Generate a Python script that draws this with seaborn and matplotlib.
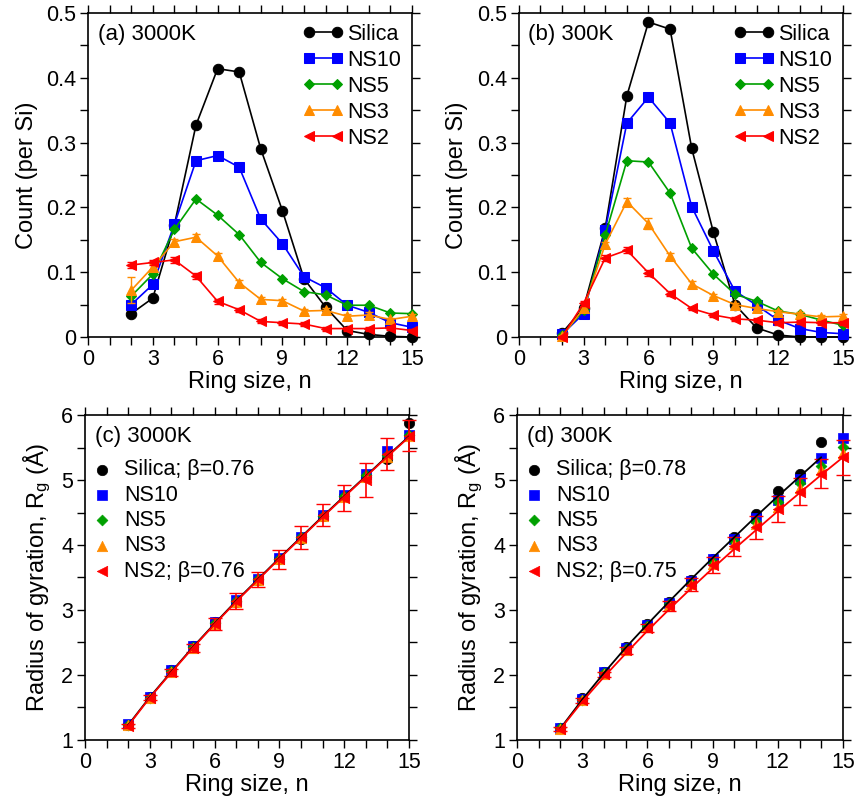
"""Ring statistics: ring size distribution and radius of gyration."""
import matplotlib
matplotlib.use("Agg")
import matplotlib.pyplot as plt
import numpy as np
import pandas as pd
import seaborn as sns

sns.set_theme(style="ticks")
plt.rcParams["font.family"] = ["Liberation Sans", "DejaVu Sans"]
plt.rcParams["mathtext.default"] = "regular"
for key in ["text.color", "axes.labelcolor", "xtick.color", "ytick.color", "axes.edgecolor"]:
    plt.rcParams[key] = "black"

n = np.arange(2, 16)
labels = ["Silica", "NS10", "NS5", "NS3", "NS2"]
colors = ["black", "#0000ff", "#00a000", "#ff8c00", "#ff0000"]
markers = ["o", "s", "D", "^", "<"]
msizes = [7.5, 6.5, 5.5, 7.5, 7.5]

# (a) ring count per Si, 3000K
a_silica = [0.036, 0.060, 0.173, 0.327, 0.414, 0.409, 0.290, 0.195, 0.090, 0.046, 0.010, 0.004, 0.001, 0.000]
a_ns10 = [0.050, 0.081, 0.174, 0.272, 0.280, 0.262, 0.182, 0.144, 0.093, 0.076, 0.049, 0.038, 0.022, 0.015]
a_ns5 = [0.063, 0.097, 0.166, 0.213, 0.188, 0.158, 0.115, 0.090, 0.070, 0.065, 0.049, 0.049, 0.037, 0.036]
a_ns3 = [0.072, 0.108, 0.147, 0.154, 0.125, 0.084, 0.058, 0.056, 0.040, 0.041, 0.032, 0.034, 0.027, 0.032]
a_ns2 = [0.111, 0.115, 0.119, 0.094, 0.055, 0.042, 0.024, 0.022, 0.020, 0.013, 0.013, 0.013, 0.014, 0.010]
a_ns3_err = [0.020, 0.005, 0.004, 0.005, 0.005, 0.004, 0.004, 0.003, 0.003, 0.003, 0.003, 0.005, 0.003, 0.003]
a_ns2_err = [0.004, 0.004, 0.005, 0.005, 0.004, 0.003, 0.003, 0.003, 0.003, 0.003, 0.003, 0.003, 0.003, 0.003]

# (b) ring count per Si, 300K
b_silica = [0.006, 0.045, 0.168, 0.372, 0.486, 0.475, 0.291, 0.162, 0.050, 0.014, 0.003, 0.000, 0.000, 0.000]
b_ns10 = [0.004, 0.036, 0.165, 0.330, 0.370, 0.330, 0.201, 0.133, 0.071, 0.049, 0.026, 0.013, 0.007, 0.005]
b_ns5 = [0.003, 0.041, 0.157, 0.272, 0.270, 0.222, 0.137, 0.097, 0.066, 0.055, 0.040, 0.035, 0.026, 0.018]
b_ns3 = [0.001, 0.044, 0.143, 0.209, 0.175, 0.125, 0.082, 0.064, 0.050, 0.044, 0.039, 0.035, 0.031, 0.032]
b_ns2 = [0.000, 0.052, 0.122, 0.134, 0.099, 0.067, 0.044, 0.034, 0.028, 0.026, 0.022, 0.023, 0.022, 0.022]
b_ns3_err = [0.002, 0.004, 0.004, 0.006, 0.008, 0.005, 0.004, 0.003, 0.003, 0.003, 0.003, 0.003, 0.003, 0.003]
b_ns2_err = [0.002, 0.004, 0.004, 0.005, 0.005, 0.004, 0.003, 0.003, 0.003, 0.003, 0.003, 0.003, 0.003, 0.003]

# (c) radius of gyration, 3000K
c_silica = [1.23, 1.66, 2.07, 2.44, 2.81, 3.13, 3.46, 3.78, 4.10, 4.44, 4.76, 5.05, 5.33, 5.87]
c_ns10 = [1.24, 1.66, 2.07, 2.44, 2.81, 3.15, 3.48, 3.80, 4.13, 4.46, 4.77, 5.09, 5.44, 5.70]
c_ns5 = [1.23, 1.65, 2.06, 2.43, 2.80, 3.14, 3.47, 3.79, 4.12, 4.45, 4.75, 5.07, 5.38, 5.69]
c_ns3 = [1.23, 1.65, 2.05, 2.42, 2.79, 3.13, 3.46, 3.78, 4.11, 4.44, 4.74, 5.05, 5.36, 5.68]
c_ns2 = [1.22, 1.65, 2.04, 2.42, 2.78, 3.14, 3.47, 3.78, 4.12, 4.46, 4.72, 5.00, 5.40, 5.68]
c_ns2_err = [0.03, 0.04, 0.05, 0.06, 0.09, 0.12, 0.12, 0.15, 0.18, 0.17, 0.20, 0.26, 0.25, 0.24]
c_silica_fit = [1.23, 1.66, 2.05, 2.43, 2.79, 3.14, 3.47, 3.80, 4.12, 4.44, 4.75, 5.06, 5.37, 5.67]
c_ns2_fit = [1.22, 1.65, 2.04, 2.42, 2.78, 3.13, 3.46, 3.79, 4.11, 4.43, 4.74, 5.05, 5.36, 5.66]

# (d) radius of gyration, 300K (no silica ring of size 15)
d_silica = [1.18, 1.64, 2.05, 2.43, 2.78, 3.12, 3.46, 3.79, 4.12, 4.48, 4.83, 5.09, 5.59, np.nan]
d_ns10 = [1.18, 1.63, 2.04, 2.42, 2.77, 3.11, 3.45, 3.78, 4.10, 4.41, 4.70, 5.01, 5.34, 5.65]
d_ns5 = [1.18, 1.62, 2.03, 2.40, 2.75, 3.09, 3.42, 3.74, 4.06, 4.36, 4.66, 4.95, 5.22, 5.51]
d_ns3 = [1.17, 1.61, 2.02, 2.39, 2.74, 3.07, 3.40, 3.71, 4.02, 4.32, 4.59, 4.88, 5.15, 5.41]
d_ns2 = [1.17, 1.61, 2.01, 2.38, 2.72, 3.06, 3.39, 3.69, 3.98, 4.27, 4.55, 4.82, 5.10, 5.35]
d_ns2_err = [0.03, 0.04, 0.04, 0.05, 0.06, 0.08, 0.10, 0.12, 0.15, 0.17, 0.20, 0.21, 0.23, 0.27]
d_silica_fit = [1.18, 1.62, 2.03, 2.42, 2.78, 3.13, 3.47, 3.80, 4.12, 4.44, 4.75, 5.05, 5.35, np.nan]
d_ns2_fit = [1.17, 1.59, 1.97, 2.33, 2.68, 3.01, 3.33, 3.64, 3.94, 4.23, 4.52, 4.80, 5.08, 5.35]


def style_axes(ax, ylim, ymajor, yminor, ylabel):
    ax.set_xlim(0, 15)
    ax.set_ylim(*ylim)
    ax.set_xticks(np.arange(0, 16, 3))
    ax.set_xticks(np.arange(0, 16, 1), minor=True)
    ax.set_yticks(ymajor)
    ax.set_yticks(yminor, minor=True)
    ax.tick_params(which="both", direction="out", length=5.5, width=1.0,
                   top=True, right=True, labelsize=15.5, pad=3)
    for sp in ax.spines.values():
        sp.set_linewidth(1.2)
    ax.set_xlabel("Ring size, n", fontsize=17, labelpad=1)
    ax.set_ylabel(ylabel, fontsize=17, labelpad=6)


def count_panel(ax, series, errs, tag):
    for i, (lab, vals) in enumerate(zip(labels, series)):
        df = pd.DataFrame({"n": n, "count": vals})
        sns.lineplot(data=df, x="n", y="count", ax=ax, color=colors[i], marker=markers[i],
                     markersize=msizes[i], markeredgecolor=colors[i], linewidth=1.2,
                     label=lab, zorder=3 + i, clip_on=False)
        if errs[i] is not None:
            ax.errorbar(n, vals, yerr=errs[i], fmt="none", ecolor=colors[i],
                        elinewidth=1.0, capsize=3, zorder=3 + i, clip_on=False)
    style_axes(ax, (0, 0.5), np.arange(0, 0.51, 0.1), np.arange(0, 0.51, 0.05), "Count (per Si)")
    ax.set_yticklabels(["0", "0.1", "0.2", "0.3", "0.4", "0.5"])
    ax.legend(loc="upper right", frameon=False, fontsize=15.5, numpoints=2,
              handlelength=1.9, handletextpad=0.2, labelspacing=0.23,
              borderaxespad=0.3, borderpad=0.2)
    ax.text(0.03, 0.965, tag, transform=ax.transAxes, fontsize=16, va="top", ha="left")


def rg_panel(ax, series, ns2_err, fits, betas, tag):
    for i, (lab, vals) in enumerate(zip(labels, series)):
        df = pd.DataFrame({"n": n, "rg": vals}).dropna()
        if i == 0:
            lab = f"Silica; β={betas[0]}"
        if i == 4:
            lab = f"NS2; β={betas[1]}"
        sns.scatterplot(data=df, x="n", y="rg", ax=ax, color=colors[i], marker=markers[i],
                        s=msizes[i] ** 2, edgecolor=colors[i], linewidth=0.5,
                        label=lab, zorder=3 + i, clip_on=False)
    ax.errorbar(n, series[4], yerr=ns2_err, fmt="none", ecolor=colors[4],
                elinewidth=1.2, capsize=5, zorder=8, clip_on=False)
    for fit, col in zip(fits, [colors[0], colors[4]]):
        df = pd.DataFrame({"n": n, "fit": fit}).dropna()
        sns.lineplot(data=df, x="n", y="fit", ax=ax, color=col, linewidth=1.3, zorder=9)
    style_axes(ax, (1, 6), np.arange(1, 6.1, 1), np.arange(1, 6.1, 0.5),
               "Radius of gyration, R$_{g}$ (Å)")
    ax.legend(loc="upper left", bbox_to_anchor=(0.0, 0.89), frameon=False, fontsize=15.5,
              handlelength=0.8, handletextpad=0.6, labelspacing=0.2,
              borderaxespad=0.2, borderpad=0.2)
    ax.text(0.03, 0.965, tag, transform=ax.transAxes, fontsize=16, va="top", ha="left")


fig = plt.figure(figsize=(8.56, 8.06), dpi=100)
ax_a = fig.add_axes([0.1028, 0.5819, 0.3785, 0.402])
ax_b = fig.add_axes([0.6060, 0.5819, 0.3789, 0.402])
ax_c = fig.add_axes([0.0993, 0.0819, 0.3785, 0.4032])
ax_d = fig.add_axes([0.6040, 0.0819, 0.3808, 0.4032])

count_panel(ax_a, [a_silica, a_ns10, a_ns5, a_ns3, a_ns2],
            [None, None, None, a_ns3_err, a_ns2_err], "(a) 3000K")
count_panel(ax_b, [b_silica, b_ns10, b_ns5, b_ns3, b_ns2],
            [None, None, None, b_ns3_err, b_ns2_err], "(b) 300K")
rg_panel(ax_c, [c_silica, c_ns10, c_ns5, c_ns3, c_ns2], c_ns2_err,
         [c_silica_fit, c_ns2_fit], ["0.76", "0.76"], "(c) 3000K")
rg_panel(ax_d, [d_silica, d_ns10, d_ns5, d_ns3, d_ns2], d_ns2_err,
         [d_silica_fit, d_ns2_fit], ["0.78", "0.75"], "(d) 300K")

fig.savefig("out.png", dpi=100)
